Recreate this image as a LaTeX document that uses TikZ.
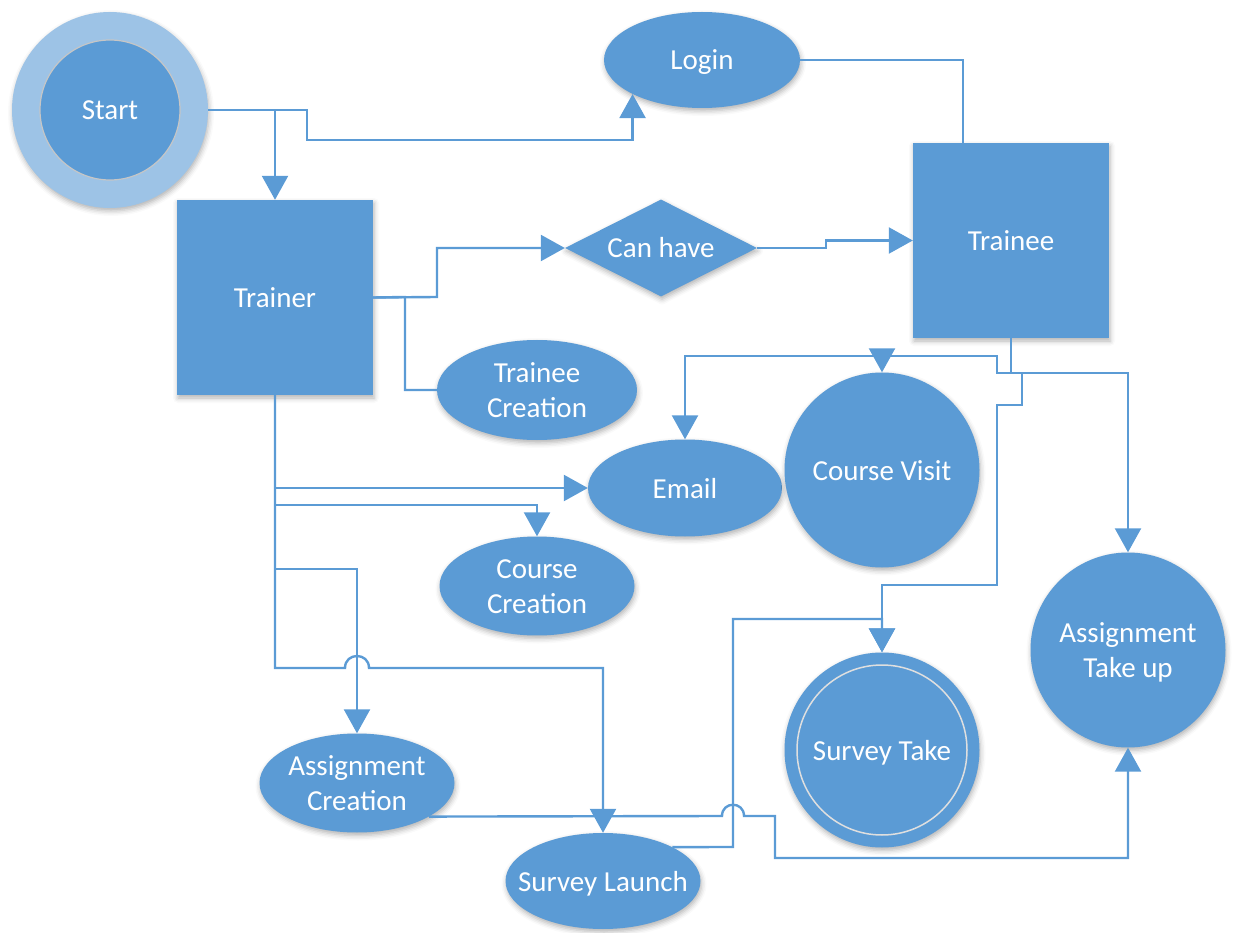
\documentclass[tikz,border=0pt]{standalone}
\usepackage{fontspec}
\setmainfont{Carlito}
\usetikzlibrary{arrows.meta,shapes.geometric,shadows.blur}
\definecolor{flow}{HTML}{5B9BD5}
\definecolor{flowlight}{HTML}{9DC3E6}
% centred label that does not widen the shape around it
\newcommand{\lbl}[1]{\makebox[0pt]{\raisebox{-3pt}[\height][\depth]{\begin{tabular}{@{}c@{}}#1\end{tabular}}}}
\begin{document}
\begin{tikzpicture}[x=1pt, y=-1pt,
  font=\fontsize{29}{35}\selectfont,
  softshadow/.style={blur shadow={shadow xshift=1pt, shadow yshift=-3pt,
      shadow blur radius=5pt, shadow opacity=30}},
  box/.style={fill=flow, text=white, inner sep=0pt, softshadow},
  rectbox/.style={box, rectangle, minimum width=196pt, minimum height=195pt},
  oval/.style={box, ellipse, minimum width=196pt, minimum height=96pt},
  bigcircle/.style={box, circle, minimum size=195pt},
  decision/.style={box, diamond, aspect=2, minimum width=192pt, minimum height=97pt},
  startring/.style={circle, fill=flowlight, minimum size=196pt, inner sep=0pt, softshadow},
  startcore/.style={circle, fill=flow, draw=gray!45, line width=1.2pt, text=white,
      minimum size=140pt, inner sep=0pt},
  link/.style={draw=flow, line width=2.4pt},
  conn/.style={link, -{Triangle[length=24pt, width=26pt]}},
]
\useasboundingbox (0,0) rectangle (1235,933);

% ---- nodes ----
\node[startring] (start) at (110,110) {};
\node[startcore] (startcore) at (110,110) {\lbl{Start}};
\node[oval] (login) at (702,60) {\lbl{Login}};
\node[rectbox] (trainer) at (275,297.5) {\lbl{Trainer}};
\node[decision] (canhave) at (661,248) {\lbl{Can have}};
\node[rectbox] (trainee) at (1011,240.5) {\lbl{Trainee}};
\node[oval, minimum width=200pt, minimum height=100pt] (tcreate) at (537,390) {\lbl{Trainee\\Creation}};
\node[oval, minimum width=194pt, minimum height=97pt] (email) at (685,488) {\lbl{Email}};
\node[bigcircle] (cvisit) at (882,470) {\lbl{Course Visit}};
\node[oval, minimum width=195pt, minimum height=95pt] (ccreate) at (537,586) {\lbl{Course\\Creation}};
\node[bigcircle] (atake) at (1128,650) {\lbl{Assignment\\Take up}};
\node[bigcircle] (stake) at (882,750) {\lbl{Survey Take}};
\draw[gray!25, line width=1.5pt] (stake.center) circle (85pt);
\node[oval, minimum width=195pt, minimum height=95pt] (acreate) at (357,783) {\lbl{Assignment\\Creation}};
\node[oval, minimum width=195pt, minimum height=96pt] (slaunch) at (603,881) {\lbl{Survey Launch}};

% ---- connectors from Start ----
\draw[conn] (start.east) -- (307,110) -- (307,140) -| (login.south west);
\draw[conn] (start.east) -| (trainer.north);
\draw[link] (login.east) -| ([xshift=-48pt]trainee.north);

% ---- connectors from Trainer ----
\draw[conn] (trainer.east) -- (437,297) |- (canhave.west);
\draw[link] (trainer.east) -- (405,297) |- (tcreate.west);
\draw[conn] (canhave.east) -- (826,248) |- (trainee.west);
\draw[conn] (trainer.south) |- (email.west);
\draw[conn] (trainer.south) -- (275,505) -| (ccreate.north);
\draw[conn] (trainer.south) -- (275,569) -| (acreate.north);
\draw[conn] (trainer.south) -- (275,668) -- (345,668)
  .. controls (345,652) and (369,652) .. (369,668) -| (slaunch.north);

% ---- connectors from Trainee ----
\draw[conn] (trainee.south) -- (1011,373) -- (997,373) -- (997,356) -| (email.north);
\draw[conn] (trainee.south) -- (1011,373) -- (997,373) -- (997,356) -| (cvisit.north);
\draw[conn] (trainee.south) -- (1011,373) -| (atake.north);
\draw[conn] (trainee.south) -- (1011,373) -- (1022,373) -- (1022,405) -- (997,405)
  -- (997,585) -| (stake.north);

% ---- lower connectors ----
\draw[conn] (acreate.-25) -- (722,816)
  .. controls (722,801) and (744,801) .. (744,816) -- (775,816) -- (775,858) -| (atake.south);
\draw[conn] (slaunch.26) -- (733,847) -- (733,619) -| (stake.north);
\end{tikzpicture}
\end{document}
